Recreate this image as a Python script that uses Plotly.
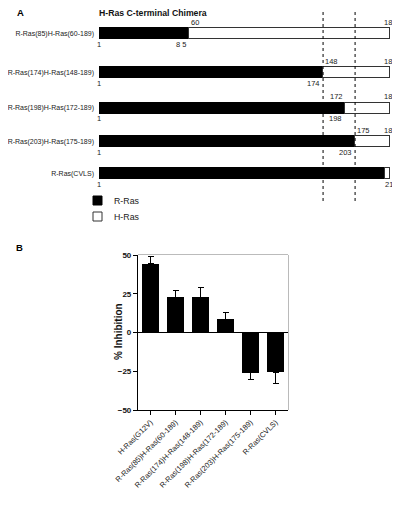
import plotly.graph_objects as go

FONT = "Liberation Sans, Arial, sans-serif"
OFF = 8            # page body margin
W, H = 400 - OFF, 527 - OFF

# panel A: chimeras, junction as % of drawn bar length
chimeras = ["R-Ras(85)H-Ras(60-189)", "R-Ras(174)H-Ras(148-189)",
            "R-Ras(198)H-Ras(172-189)", "R-Ras(203)H-Ras(175-189)",
            "R-Ras(CVLS)"]
rras_pct = [31.0, 77.0, 84.5, 88.0, 98.3]
top_start = ["60", "148", "172", "175", ""]
top_end = ["189", "189", "189", "189", ""]
bottom_junction = ["8 5", "174", "198", "203", ""]
bottom_end = ["", "", "", "", "218"]
dashed_at = [77.0, 88.0]

# panel B: % inhibition
constructs = ["H-Ras(G12V)", "R-Ras(85)H-Ras(60-189)", "R-Ras(174)H-Ras(148-189)",
              "R-Ras(198)H-Ras(172-189)", "R-Ras(203)H-Ras(175-189)", "R-Ras(CVLS)"]
inhibition = [44.2, 22.9, 22.6, 8.7, -26.1, -25.5]
err_up = [5.0, 4.0, 6.5, 4.0, 0, 0]
err_down = [0, 0, 0, 0, 4.0, 7.5]

# pixel rows for the chimera bars (layout only)
row_y = [33.5, 72.5, 108, 141.5, 173.5]
bar_h = 11


def px(x):
    return (x - OFF) / W


def py(y):
    return 1 - (y - OFF) / H


fig = go.Figure()

fig.add_trace(go.Bar(
    y=row_y, x=rras_pct, orientation="h", width=bar_h,
    marker=dict(color="black", line=dict(color="black", width=1)),
    xaxis="x", yaxis="y", showlegend=False, hoverinfo="skip"))
fig.add_trace(go.Bar(
    y=row_y, x=[100 - v for v in rras_pct], orientation="h", width=bar_h,
    marker=dict(color="white", line=dict(color="#333", width=1)),
    xaxis="x", yaxis="y", showlegend=False, hoverinfo="skip"))

fig.add_trace(go.Bar(
    x=constructs, y=inhibition, width=0.68,
    marker=dict(color="black", line=dict(width=0)),
    error_y=dict(type="data", symmetric=False, array=err_up, arrayminus=err_down,
                 color="black", thickness=1, width=3),
    xaxis="x2", yaxis="y2", showlegend=False))

ann = []
small = dict(family=FONT, size=7.5, color="#222")
for i, yv in enumerate(row_y):
    top = yv - bar_h / 2 - 6
    bot = yv + bar_h / 2 + 5
    j = rras_pct[i]
    if top_start[i]:
        anchor = "right" if i == 2 else "left"
        ann.append(dict(x=j, y=top, xref="x", yref="y", text=top_start[i],
                        xanchor=anchor, yanchor="middle", showarrow=False, font=small))
    if top_end[i]:
        ann.append(dict(x=100, y=top, xref="x", yref="y", text=top_end[i], xshift=0,
                        xanchor="center", yanchor="middle", showarrow=False, font=small))
    ann.append(dict(x=0, y=bot, xref="x", yref="y", text="1",
                    xanchor="center", yanchor="middle", showarrow=False, font=small))
    if bottom_junction[i]:
        ann.append(dict(x=j, y=bot, xref="x", yref="y", text=bottom_junction[i], xshift=-1,
                        xanchor="right", yanchor="middle", showarrow=False, font=small))
    if bottom_end[i]:
        ann.append(dict(x=100, y=bot, xref="x", yref="y", text=bottom_end[i], xshift=1,
                        xanchor="center", yanchor="middle", showarrow=False, font=small))

ann += [
    dict(x=px(20), y=py(13), xref="paper", yref="paper", text="<b>A</b>",
         showarrow=False, xanchor="center", yanchor="middle",
         font=dict(family=FONT, size=9.5, color="black")),
    dict(x=px(97), y=py(13), xref="paper", yref="paper", text="<b>H-Ras C-terminal Chimera</b>",
         showarrow=False, xanchor="left", yanchor="middle",
         font=dict(family=FONT, size=8.7, color="#111")),
    dict(x=px(19), y=py(247), xref="paper", yref="paper", text="<b>B</b>",
         showarrow=False, xanchor="center", yanchor="middle",
         font=dict(family=FONT, size=9.5, color="black")),
    dict(x=px(118), y=py(331), xref="paper", yref="paper", text="<b>% Inhibition</b>",
         textangle=-90, showarrow=False, xanchor="center", yanchor="middle",
         font=dict(family=FONT, size=10, color="#111")),
    dict(x=px(112), y=py(201), xref="paper", yref="paper", text="R-Ras",
         showarrow=False, xanchor="left", yanchor="middle",
         font=dict(family=FONT, size=8.8, color="#222")),
    dict(x=px(112), y=py(217), xref="paper", yref="paper", text="H-Ras",
         showarrow=False, xanchor="left", yanchor="middle",
         font=dict(family=FONT, size=8.8, color="#222")),
]

shapes = []
for d in dashed_at:
    shapes.append(dict(type="line", xref="x", yref="y", x0=d, x1=d, y0=12, y1=203,
                       line=dict(color="black", width=1, dash="dot")))
# legend keys
shapes.append(dict(type="rect", xref="paper", yref="paper",
                   x0=px(93), x1=px(102), y0=py(205), y1=py(196),
                   fillcolor="black", line=dict(color="black", width=1)))
shapes.append(dict(type="rect", xref="paper", yref="paper",
                   x0=px(93), x1=px(102), y0=py(221), y1=py(212),
                   fillcolor="white", line=dict(color="#333", width=1)))
# panel B frame
shapes.append(dict(type="rect", xref="x2 domain", yref="y2 domain", x0=0, x1=1, y0=0, y1=1,
                   line=dict(color="#777", width=1), layer="below"))

fig.update_layout(
    width=W, height=H, autosize=False,
    margin=dict(l=0, r=0, t=0, b=0, pad=0),
    paper_bgcolor="white", plot_bgcolor="white",
    barmode="stack", bargap=0,
    showlegend=False,
    font=dict(family=FONT, color="#222"),
    xaxis=dict(domain=[px(99), px(390)], range=[0, 100], visible=False,
               anchor="y", fixedrange=True, automargin=False),
    yaxis=dict(domain=[0, 1], range=[527, OFF], anchor="x", tickvals=row_y, ticktext=chimeras,
               showgrid=False, zeroline=False, showline=False, ticks="", automargin=False,
               ticklabelstandoff=4, tickfont=dict(family=FONT, size=7, color="#222")),
    xaxis2=dict(domain=[px(138), px(288)], anchor="y2", type="category", automargin=False,
                showline=True, linecolor="black", linewidth=1,
                ticks="outside", ticklen=4, tickcolor="black", tickangle=-45,
                tickfont=dict(family=FONT, size=7.5, color="#222"), showgrid=False),
    yaxis2=dict(domain=[py(410), py(255)], anchor="x2", range=[-50, 50], automargin=False,
                tickvals=[-50, -25, 0, 25, 50], ticks="outside", ticklen=4, tickcolor="black",
                showline=True, linecolor="black", linewidth=1.2,
                zeroline=True, zerolinecolor="black", zerolinewidth=1, showgrid=False,
                tickfont=dict(family=FONT, size=8, color="#111", weight="bold")),
    annotations=ann, shapes=shapes,
)

fig.write_html("out.html")
